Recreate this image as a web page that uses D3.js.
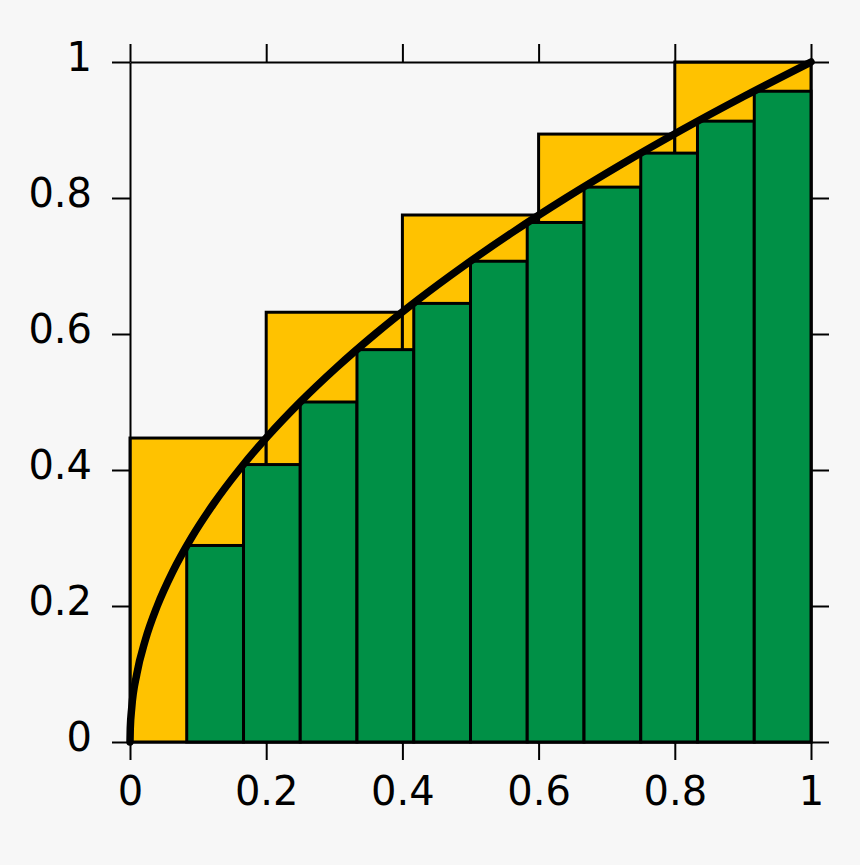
<!DOCTYPE html>
<html>
<head>
<meta charset="utf-8">
<script src="https://cdn.jsdelivr.net/npm/d3@7"></script>
<style>
  html, body { margin: 0; padding: 0; background: #f7f7f7; }
  svg { display: block; }
  .axis text { font-family: "DejaVu Sans", sans-serif; font-size: 40px; fill: #000; }
  .axis path, .axis line { stroke: #000; stroke-width: 2px; }
</style>
</head>
<body>
<div id="chart"></div>
<script>
// ============================================
// DATA
// ============================================

// upper sum, 5 intervals
const upperLeft = [0, 0.2, 0.4, 0.6, 0.8];
const upperRight = [0.2, 0.4, 0.6, 0.8, 1];
const upperHeight = [0.447, 0.632, 0.775, 0.894, 1];

// lower sum, 12 intervals
const lowerLeft = [0, 0.0833, 0.1667, 0.25, 0.3333, 0.4167, 0.5, 0.5833, 0.6667, 0.75, 0.8333, 0.9167];
const lowerRight = [0.0833, 0.1667, 0.25, 0.3333, 0.4167, 0.5, 0.5833, 0.6667, 0.75, 0.8333, 0.9167, 1];
const lowerHeight = [0, 0.289, 0.408, 0.5, 0.577, 0.645, 0.707, 0.764, 0.816, 0.866, 0.913, 0.957];

// curve y = sqrt(x), sampled points
const curveX = [0, 0.0004, 0.0025, 0.01, 0.0225, 0.04, 0.0625, 0.09, 0.1225, 0.16, 0.2025, 0.25,
  0.3025, 0.36, 0.4225, 0.49, 0.5625, 0.64, 0.7225, 0.81, 0.9025, 1];
const curveY = [0, 0.02, 0.05, 0.1, 0.15, 0.2, 0.25, 0.3, 0.35, 0.4, 0.45, 0.5,
  0.55, 0.6, 0.65, 0.7, 0.75, 0.8, 0.85, 0.9, 0.95, 1];

const tickValues = [0, 0.2, 0.4, 0.6, 0.8, 1];

// ============================================
// SETUP
// ============================================

const W = 860, H = 865;
const x = d3.scaleLinear().domain([0, 1]).range([130, 811]);
const y = d3.scaleLinear().domain([0, 1]).range([742, 62]);

const svg = d3.select('#chart').append('svg')
  .attr('width', W)
  .attr('height', H);

svg.append('rect')
  .attr('width', W).attr('height', H)
  .attr('fill', '#f7f7f7');

// yellow rectangles (upper sum)
svg.append('g').selectAll('rect')
  .data(upperLeft.map((d, i) => ({ x0: d, x1: upperRight[i], h: upperHeight[i] })))
  .join('rect')
  .attr('x', d => x(d.x0))
  .attr('y', d => y(d.h))
  .attr('width', d => x(d.x1) - x(d.x0))
  .attr('height', d => y(0) - y(d.h))
  .attr('fill', '#ffc200')
  .attr('stroke', '#000')
  .attr('stroke-width', 3);

// green rectangles (lower sum)
svg.append('g').selectAll('rect')
  .data(lowerLeft.map((d, i) => ({ x0: d, x1: lowerRight[i], h: lowerHeight[i] })))
  .join('rect')
  .attr('x', d => x(d.x0))
  .attr('y', d => y(d.h))
  .attr('width', d => x(d.x1) - x(d.x0))
  .attr('height', d => y(0) - y(d.h))
  .attr('fill', '#009046')
  .attr('stroke', '#000')
  .attr('stroke-width', 3);

// ============================================
// AXES
// ============================================

const fmt = d3.format('~g');

svg.append('g')
  .attr('class', 'axis')
  .attr('transform', `translate(0,${y(0)})`)
  .call(d3.axisBottom(x).tickValues(tickValues).tickFormat(fmt)
    .tickSizeInner(18).tickSizeOuter(0).tickPadding(17));

svg.append('g')
  .attr('class', 'axis')
  .attr('transform', `translate(${x(0)},0)`)
  .call(d3.axisLeft(y).tickValues(tickValues).tickFormat(fmt)
    .tickSizeInner(18).tickSizeOuter(0).tickPadding(20))
  .selectAll('text').attr('dy', '0.22em');

svg.append('g')
  .attr('class', 'axis')
  .attr('transform', `translate(0,${y(1)})`)
  .call(d3.axisTop(x).tickValues(tickValues).tickFormat('')
    .tickSizeInner(18).tickSizeOuter(0));

svg.append('g')
  .attr('class', 'axis')
  .attr('transform', `translate(${x(1)},0)`)
  .call(d3.axisRight(y).tickValues(tickValues).tickFormat('')
    .tickSizeInner(18).tickSizeOuter(0));

// ============================================
// CURVE
// ============================================

const line = d3.line()
  .x(d => x(d[0]))
  .y(d => y(d[1]))
  .curve(d3.curveMonotoneX);

svg.append('path')
  .datum(curveX.map((d, i) => [d, curveY[i]]))
  .attr('d', line)
  .attr('fill', 'none')
  .attr('stroke', '#000')
  .attr('stroke-width', 7.5)
  .attr('stroke-linecap', 'round');
</script>
</body>
</html>
